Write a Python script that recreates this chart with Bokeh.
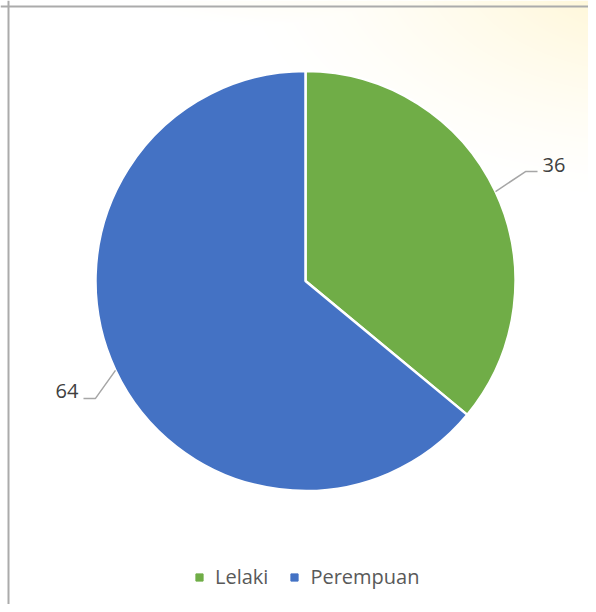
import numpy as np
from bokeh.plotting import figure
from bokeh.models import Range1d, Legend, LegendItem, Span, ColumnDataSource
from bokeh.core.properties import value
from bokeh.embed import file_html
from bokeh.resources import INLINE

# ---- data ----
categories = ["Lelaki", "Perempuan"]
values = [36, 64]
colors = ["#70AD47", "#4472C4"]

# ---- style constants ----
W, H = 588, 604
CX, CY, R = 305, H - 280.5, 210
leader_dx = [30, -20]
leader_dy = [20, -28]
leader_h = [12, -12]
FONT = "Open Sans"

p = figure(width=W, height=H, output_backend="svg", toolbar_location=None,
           x_range=Range1d(0, W), y_range=Range1d(0, H), min_border=0,
           outline_line_color=None, x_axis_location=None, y_axis_location=None,
           background_fill_color="white", border_fill_color="white")
p.grid.visible = False

# background glow (top-right)
jj, ii = np.meshgrid(np.arange(W), np.arange(H))
px = jj + 0.5
py = H - 0.5 - ii
d = np.sqrt(((px - 660) / 440.0) ** 2 + ((py + 40) / 250.0) ** 2)
a = np.clip(1 - d, 0, 1) ** 1.5
d2 = np.sqrt(((px - 430) / 330.0) ** 2 + ((py + 10) / 45.0) ** 2)
a = np.maximum(a, 0.3 * np.clip(1 - d2, 0, 1))
img = np.zeros((H, W), dtype=np.uint32)
view = img.view(dtype=np.uint8).reshape((H, W, 4))
view[:, :, 0] = 255
view[:, :, 1] = 236
view[:, :, 2] = 165
view[:, :, 3] = (np.clip(a * 0.6, 0, 1) * 255).astype(np.uint8)
p.image_rgba(image=[img], x=0, y=0, dw=W, dh=H)

# border (left and top edges visible)
p.add_layout(Span(location=8, dimension="height", line_color="#ABABAB", line_width=2))
p.add_layout(Span(location=H - 6, dimension="width", line_color="#ABABAB", line_width=2))

# wedges
total = float(sum(values))
ends, starts = [], []
cur = np.pi / 2
for v in values:
    e = cur
    s = cur - v / total * 2 * np.pi
    starts.append(s)
    ends.append(e)
    cur = s

src = ColumnDataSource(dict(cat=categories, val=values, color=colors,
                            start=starts, end=ends,
                            x=[CX] * len(values), y=[CY] * len(values)))
p.wedge(x="x", y="y", radius=R, start_angle="start", end_angle="end",
        fill_color="color", line_color="white", line_width=2.5, source=src)

# leader lines and labels
for k, v in enumerate(values):
    mid = (starts[k] + ends[k]) / 2
    ex, ey = CX + R * np.cos(mid), CY + R * np.sin(mid)
    bx, by = ex + leader_dx[k], ey + leader_dy[k]
    hx = bx + leader_h[k]
    p.line([ex, bx, hx], [ey, by, by], line_color="#A6A6A6", line_width=1.5)
    right = leader_h[k] > 0
    p.text(x=[hx + (5 if right else -5)], y=[by + 7], text=[str(v)],
           text_font=value(FONT), text_font_size="20px", text_color="#404040",
           text_align="left" if right else "right", text_baseline="middle")

# legend
items = []
for k, c in enumerate(categories):
    r = p.scatter(x=[np.nan], y=[np.nan], marker="square", size=7,
                  fill_color=colors[k], line_color=colors[k])
    items.append(LegendItem(label=c, renderers=[r]))
legend = Legend(items=items, orientation="horizontal", location=(190, 14),
                glyph_width=18, glyph_height=20, label_standoff=7, spacing=17,
                padding=0, margin=0, border_line_color=None,
                background_fill_alpha=0, label_text_font=FONT,
                label_text_font_size="20px", label_text_color="#595959")
p.add_layout(legend)

open("out.html", "w").write(file_html(p, INLINE))
